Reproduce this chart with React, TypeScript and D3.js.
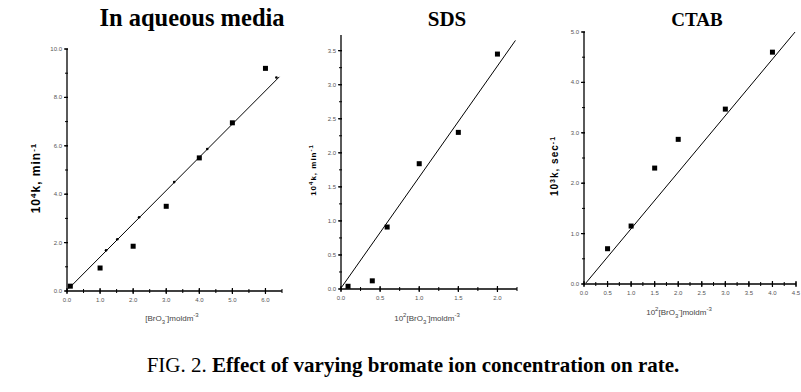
import React from 'react';
import * as d3 from 'd3';

// aqueous media
const aqX = [0.1, 1.0, 2.0, 3.0, 4.0, 5.0, 6.0];
const aqY = [0.2, 0.95, 1.85, 3.5, 5.5, 6.95, 9.2];
const aqFitX = [0.05, 6.42];
const aqFitY = [0.1, 8.85];
const aqFitDotX = [1.18, 1.52, 2.18, 3.24, 4.24, 6.33];
const aqFitDotY = [1.68, 2.14, 3.05, 4.5, 5.87, 8.82];
const aqXTicks = [0, 1, 2, 3, 4, 5, 6];
const aqYTicks = [0, 2, 4, 6, 8, 10];

// SDS
const sdsX = [0.09, 0.4, 0.59, 1.0, 1.5, 2.0];
const sdsY = [0.04, 0.12, 0.91, 1.84, 2.3, 3.45];
const sdsFitX = [0.01, 2.23];
const sdsFitY = [0.03, 3.65];
const sdsXTicks = [0, 0.5, 1.0, 1.5, 2.0];
const sdsYTicks = [0, 0.5, 1.0, 1.5, 2.0, 2.5, 3.0, 3.5];

// CTAB
const ctabX = [0.5, 1.0, 1.5, 2.0, 3.0, 4.0];
const ctabY = [0.7, 1.15, 2.3, 2.87, 3.47, 4.6];
const ctabFitX = [0.04, 4.48];
const ctabFitY = [0.02, 5.0];
const ctabXTicks = [0, 0.5, 1.0, 1.5, 2.0, 2.5, 3.0, 3.5, 4.0, 4.5];
const ctabYTicks = [0, 1, 2, 3, 4, 5];

const Panel = (props) => {
    const {left, right, top, bottom, xMax, yMax, xs, ys, fitX, fitY, dotX, dotY, xTicks, yTicks, xMinor, yMinor,
        title, titleX, titleSize, yLabel, yLabelX, yLabelSize, xLabel, xLabelX, xLabelY} = props;

    const x = d3.scaleLinear().domain([0, xMax]).range([left, right]);
    const y = d3.scaleLinear().domain([0, yMax]).range([bottom, top]);
    const fmt = d3.format('.1f');

    const xMinorTicks = d3.range(0, xMax + 1e-9, xMinor);
    const yMinorTicks = d3.range(0, yMax + 1e-9, yMinor);

    const fit = d3.line().x((d) => x(d[0])).y((d) => y(d[1]))(fitX.map((v, i) => [v, fitY[i]]));
    const yMid = (top + bottom) / 2;

    return (
        <g>
            <text x={titleX} y={26} textAnchor="middle" fontFamily="Liberation Serif" fontWeight="bold" fontSize={titleSize}>
                {title}
            </text>
            {/* axes */}
            <line x1={left} x2={left} y1={top} y2={bottom} stroke="#000" strokeWidth={1.3} />
            <line x1={left} x2={right} y1={bottom} y2={bottom} stroke="#000" strokeWidth={1.3} />
            {xMinorTicks.map((t, i) => (
                <line key={'xm' + i} x1={x(t)} x2={x(t)} y1={bottom - 2} y2={bottom + 2} stroke="#000" strokeWidth={1} />
            ))}
            {yMinorTicks.map((t, i) => (
                <line key={'ym' + i} x1={left - 2} x2={left + 1} y1={y(t)} y2={y(t)} stroke="#000" strokeWidth={1} />
            ))}
            {xTicks.map((t, i) => (
                <g key={'xt' + i}>
                    <line x1={x(t)} x2={x(t)} y1={bottom - 3} y2={bottom + 3} stroke="#000" strokeWidth={1.2} />
                    <text x={x(t)} y={bottom + 11} textAnchor="middle" fontFamily="Liberation Sans" fontSize={6} fill="#555">
                        {fmt(t)}
                    </text>
                </g>
            ))}
            {yTicks.map((t, i) => (
                <g key={'yt' + i}>
                    <line x1={left - 3} x2={left + 1} y1={y(t)} y2={y(t)} stroke="#000" strokeWidth={1.2} />
                    <text x={left - 5} y={y(t) + 2} textAnchor="end" fontFamily="Liberation Sans" fontSize={6} fill="#555">
                        {fmt(t)}
                    </text>
                </g>
            ))}
            {/* fit line */}
            <path d={fit} fill="none" stroke="#000" strokeWidth={1} />
            {dotX && dotX.map((v, i) => (
                <circle key={'fd' + i} cx={x(v)} cy={y(dotY[i])} r={1.3} fill="#000" />
            ))}
            {/* data points */}
            {xs.map((v, i) => (
                <rect key={'p' + i} x={x(v) - 2.5} y={y(ys[i]) - 2.5} width={5} height={5} fill="#000" />
            ))}
            {/* labels */}
            <text transform={`translate(${yLabelX},${yMid + 8}) rotate(-90)`} textAnchor="middle"
                  fontFamily="Liberation Sans" fontWeight="bold" fontSize={yLabelSize} letterSpacing={1}>
                {yLabel}
            </text>
            <text x={xLabelX} y={xLabelY} textAnchor="middle" fontFamily="Liberation Sans" fontSize={8} fill="#444">
                {xLabel}
            </text>
        </g>
    );
};

const App = () => {
    return (
        <svg width={801} height={392} style={{display: 'block', position: 'absolute', left: 0, top: 0, background: '#fff'}}>
            <Panel left={67} right={282} top={49} bottom={291} xMax={6.5} yMax={10}
                   xs={aqX} ys={aqY} fitX={aqFitX} fitY={aqFitY} dotX={aqFitDotX} dotY={aqFitDotY}
                   xTicks={aqXTicks} yTicks={aqYTicks} xMinor={0.5} yMinor={1}
                   title="In aqueous media" titleX={192} titleSize={24.5}
                   yLabel={<>10<tspan dy={-4} fontSize={8}>4</tspan><tspan dy={4}>k, min</tspan><tspan dy={-4} fontSize={8}>-1</tspan></>}
                   yLabelX={40} yLabelSize={12}
                   xLabel={<>[BrO<tspan dy={3} fontSize={6}>3</tspan><tspan dy={-6} fontSize={6}>-</tspan><tspan dy={3}>]moldm</tspan><tspan dy={-4} fontSize={6}>-3</tspan></>}
                   xLabelX={172} xLabelY={321} />
            <Panel left={341} right={517} top={35} bottom={289} xMax={2.25} yMax={3.73}
                   xs={sdsX} ys={sdsY} fitX={sdsFitX} fitY={sdsFitY}
                   xTicks={sdsXTicks} yTicks={sdsYTicks} xMinor={0.25} yMinor={0.25}
                   title="SDS" titleX={447} titleSize={21}
                   yLabel={<>10<tspan dy={-3} fontSize={6}>4</tspan><tspan dy={3}>k, min</tspan><tspan dy={-3} fontSize={6}>-1</tspan></>}
                   yLabelX={316} yLabelSize={8}
                   xLabel={<>10<tspan dy={-4} fontSize={6}>2</tspan><tspan dy={4}>[BrO</tspan><tspan dy={3} fontSize={6}>3</tspan><tspan dy={-6} fontSize={6}>-</tspan><tspan dy={3}>]moldm</tspan><tspan dy={-4} fontSize={6}>-3</tspan></>}
                   xLabelX={427} xLabelY={321} />
            <Panel left={584} right={796} top={32} bottom={284} xMax={4.5} yMax={5}
                   xs={ctabX} ys={ctabY} fitX={ctabFitX} fitY={ctabFitY}
                   xTicks={ctabXTicks} yTicks={ctabYTicks} xMinor={0.25} yMinor={0.5}
                   title="CTAB" titleX={697} titleSize={19}
                   yLabel={<>10<tspan dy={-3} fontSize={7}>3</tspan><tspan dy={3}>k, sec</tspan><tspan dy={-3} fontSize={7}>-1</tspan></>}
                   yLabelX={558} yLabelSize={10}
                   xLabel={<>10<tspan dy={-4} fontSize={6}>2</tspan><tspan dy={4}>[BrO</tspan><tspan dy={3} fontSize={6}>3</tspan><tspan dy={-6} fontSize={6}>-</tspan><tspan dy={3}>]moldm</tspan><tspan dy={-4} fontSize={6}>-3</tspan></>}
                   xLabelX={679} xLabelY={315} />
            <text x={413} y={372} textAnchor="middle" fontFamily="Liberation Serif" fontSize={21}>
                FIG. 2. <tspan fontWeight="bold">Effect of varying bromate ion concentration on rate.</tspan>
            </text>
        </svg>
    );
};

export default App;
